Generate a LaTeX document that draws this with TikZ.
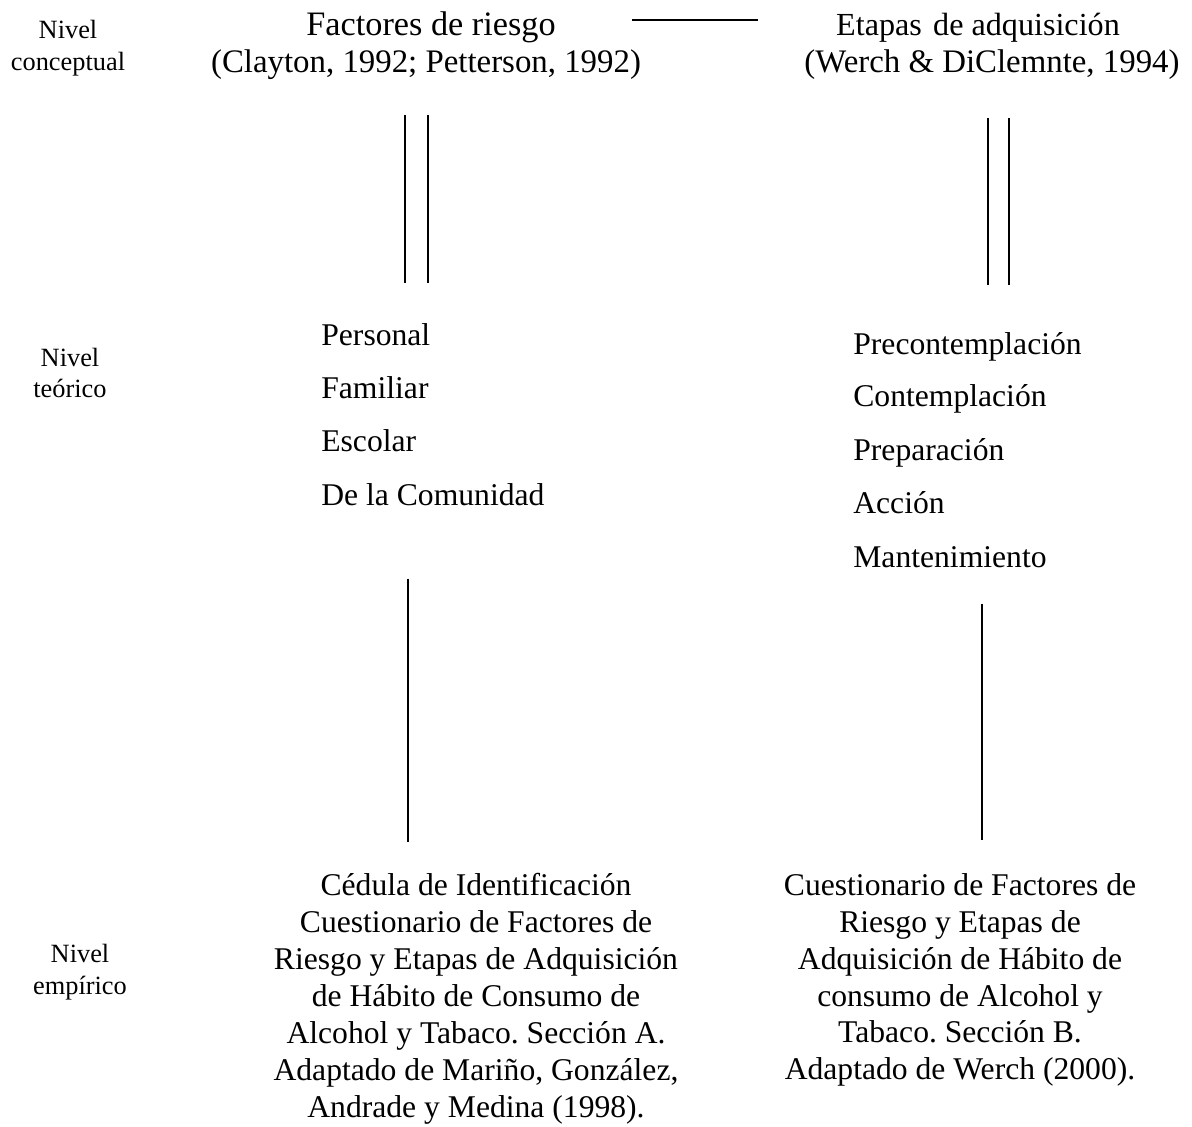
\documentclass[tikz,border=0pt]{standalone}
\usepackage{fontspec}
\setmainfont{Liberation Serif}
\usetikzlibrary{calc}
\frenchspacing

\tikzset{
    titulo/.style={inner sep=0pt, anchor=base, font=\fontsize{18.7}{22.7}\selectfont},
    nivel/.style={inner sep=0pt, align=center, font=\fontsize{15}{18}\selectfont},
    item/.style={inner sep=0pt, anchor=base west, font=\fontsize{18}{21}\selectfont},
    bloque/.style={inner sep=0pt, anchor=north, align=center, font=\fontsize{18}{21}\selectfont},
    linea/.style={line width=1pt}
}

\begin{document}
\begin{tikzpicture}[x=0.02cm, y=-0.02cm]
    \useasboundingbox (0,0) rectangle (1192,1126);
    % ── niveles ──────────────────────────────────────────
    \node[nivel] (nc) at (68,48) {Nivel\\conceptual};
    \node[nivel] (nt) at (70,373) {Nivel\\teórico};
    \node[nivel] (ne) at (80,972) {Nivel\\empírico};
    % ── nivel conceptual ─────────────────────────────────
    \node[titulo, font=\fontsize{19.5}{22.7}\selectfont] (frt) at (431,35) {Factores de riesgo};
    \node[titulo] (frc) at (426,72) {(Clayton, 1992; Petterson, 1992)};
    \node[titulo, font=\fontsize{18.3}{22.7}\selectfont] (eat) at (978,35) {Etapas\kern0.1em\ de adquisición};
    \node[titulo] (eac) at (992,72) {(Werch \& DiClemnte, 1994)};
    \draw[linea] ($(frt.east)+(76,-6.5)$) -- ($(eat.west |- frt.east)+(-78,-6.5)$);
    % ── nivel teórico ────────────────────────────────────
    \foreach \t/\y/\n in {Personal/345/p1, Familiar/398/p2, Escolar/451/p3, De la Comunidad/505/p4} {
        \node[item] (\n) at (321,\y) {\t};
    }
    \foreach \t/\y/\n in {Precontemplación/354/e1, Contemplación/406/e2, Preparación/460/e3, Acción/513/e4, Mantenimiento/567/e5} {
        \node[item] (\n) at (853,\y) {\t};
    }
    % dobles líneas
    \foreach \dx in {-21, 2} {
        \draw[linea] ($(frc.south)+(\dx,36)$) -- ($(frc.south |- p1.north)+(\dx,-40)$);
    }
    \foreach \dx in {-4, 17} {
        \draw[linea] ($(eac.south)+(\dx,39)$) -- ($(eac.south |- e1.north)+(\dx,-47)$);
    }
    % ── nivel empírico ───────────────────────────────────
    \node[bloque] (cedula) at (476,873) {Cédula de Identificación\\Cuestionario de Factores de\\Riesgo y Etapas de Adquisición\\de Hábito de Consumo de\\Alcohol y Tabaco. Sección A.\\Adaptado de Mariño, González,\\Andrade y Medina (1998).};
    \node[bloque] (cuest) at (960,873) {Cuestionario de Factores de\\Riesgo y Etapas de\\Adquisición de Hábito de\\consumo de Alcohol y\\Tabaco. Sección B.\\Adaptado de Werch (2000).};
    \draw[linea] ($(cedula.north |- p4.south)+(-68,73)$) -- ($(cedula.north)+(-68,-31)$);
    \draw[linea] ($(cuest.north |- e5.south)+(22,36)$) -- ($(cuest.north)+(22,-33)$);
\end{tikzpicture}
\end{document}
